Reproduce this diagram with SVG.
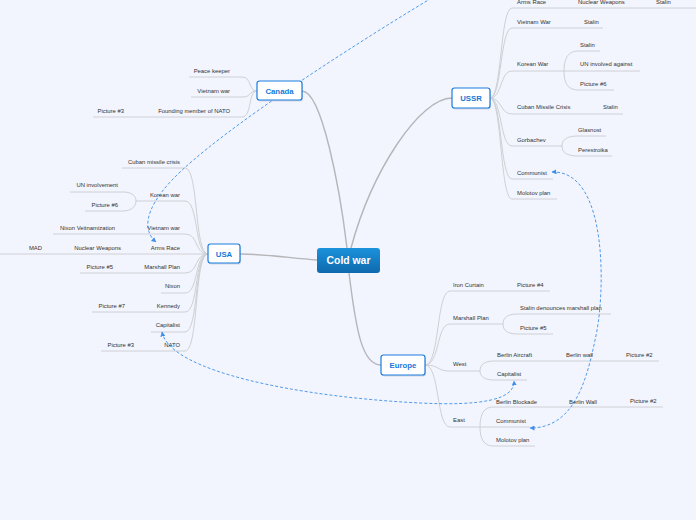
<svg xmlns="http://www.w3.org/2000/svg" width="696" height="520" viewBox="0 0 696 520">
<defs>
<linearGradient id="cg" x1="0" y1="0" x2="0" y2="1">
<stop offset="0" stop-color="#1b92dc"/>
<stop offset="1" stop-color="#0f69ad"/>
</linearGradient>
<marker id="ar" viewBox="0 0 10 10" refX="9" refY="5" markerWidth="5" markerHeight="5" orient="auto-start-reverse" markerUnits="userSpaceOnUse">
<path d="M0,0 L10,5 L0,10 z" fill="#3d8fe8"/>
</marker>
<style>
.main{fill:none;stroke:#b5b5ba;stroke-width:1.4}
.sub{fill:none;stroke:#cfd0d5;stroke-width:1}
.rel{fill:none;stroke:#3d8fe8;stroke-width:0.9;stroke-dasharray:3 2}
.t{font-family:"Liberation Sans",Arial,sans-serif;font-size:5.9px;fill:#333}
.e{text-anchor:end}
.nb{fill:#fff;stroke:#1a7ce0;stroke-width:1.2}
.sh{fill:#9aa3b5;opacity:0.35}
.nt{font-family:"Liberation Sans",Arial,sans-serif;font-size:7.8px;font-weight:bold;fill:#1777d8;text-anchor:middle}
</style>
</defs>
<rect width="696" height="520" fill="#f2f5fd"/>
<g id="connectors">
<path class="main" d="M302,91 C322,91 340,190 347,248"/>
<path class="main" d="M351,248 C372,170 420,98 452,98"/>
<path class="main" d="M317,260 C290,258 265,254 240,254"/>
<path class="main" d="M349,273 C356,330 362,365 381,365"/>
<!-- USSR -->
<path class="sub" d="M490,98 C502,98 500,8 512,8 H696"/>
<path class="sub" d="M490,98 C502,98 500,28 512,28 H603"/>
<path class="sub" d="M490,98 C502,98 500,71 512,71 H640"/>
<path class="sub" d="M578,51 C567,51 564,60 564,71 C564,82 567,90 578,90"/>
<path class="sub" d="M578,51 H600 M578,90 H614"/>
<path class="sub" d="M490,98 C502,98 500,114 512,114 H623"/>
<path class="sub" d="M490,98 C502,98 500,146 512,146 H562"/>
<path class="sub" d="M578,136 C566,136 562,140 562,146 C562,152 566,156 578,156"/>
<path class="sub" d="M578,136 H606 M578,156 H612"/>
<path class="sub" d="M490,98 C502,98 500,179 512,179 H553"/>
<path class="sub" d="M490,98 C502,98 500,199 512,199 H557"/>
<!-- USA -->
<path class="sub" d="M208,254 C194,254 199,168 185,168 H122"/>
<path class="sub" d="M208,254 C194,254 199,201 185,201 H136"/>
<path class="sub" d="M123,192 C132,192 136,196 136,201 C136,206 132,211 123,211"/>
<path class="sub" d="M123,192 H70 M123,211 H85"/>
<path class="sub" d="M208,254 C194,254 199,234 185,234 H53"/>
<path class="sub" d="M208,254 H0"/>
<path class="sub" d="M208,254 C194,254 199,273 185,273 H80"/>
<path class="sub" d="M208,254 C194,254 199,293 185,293 H161"/>
<path class="sub" d="M208,254 C194,254 199,312 185,312 H92"/>
<path class="sub" d="M208,254 C194,254 199,332 185,332 H151"/>
<path class="sub" d="M208,254 C194,254 199,351 185,351 H101"/>
<!-- Canada -->
<path class="sub" d="M257,91 C248,91 252,77 242,77 H189"/>
<path class="sub" d="M257,91 C248,91 252,97 242,97 H191"/>
<path class="sub" d="M257,91 C248,91 252,117 242,117 H93"/>
<!-- Europe -->
<path class="sub" d="M425,365 C440,365 436,291 450,291 H550"/>
<path class="sub" d="M425,365 C440,365 436,324 450,324 H503"/>
<path class="sub" d="M517,314 C507,314 503,318 503,324 C503,330 507,334 517,334"/>
<path class="sub" d="M517,314 H611 M517,334 H553"/>
<path class="sub" d="M425,365 C440,365 436,371 450,371 H480"/>
<path class="sub" d="M494,361 C484,361 480,365 480,371 C480,376 484,380 494,380"/>
<path class="sub" d="M494,361 H659 M494,380 H527"/>
<path class="sub" d="M425,365 C440,365 436,427 450,427 H530"/>
<path class="sub" d="M493,407 C484,407 480,414 480,427 C480,439 484,446 493,446"/>
<path class="sub" d="M493,407 H663 M493,446 H535"/>
<!-- relationships -->
<path class="rel" marker-end="url(#ar)" d="M470,-25 C360,40 220,130 172,180 C142,212 144,232 156,242"/>
<path class="rel" marker-start="url(#ar)" marker-end="url(#ar)" d="M162,332 C170,372 300,397 420,403 C480,406 515,400 514,381"/>
<path class="rel" marker-start="url(#ar)" marker-end="url(#ar)" d="M552,172 C610,170 605,300 595,340 C585,390 570,428 530,428"/>
</g>
<g id="center">
<rect x="317" y="248" width="63" height="25" rx="3" fill="url(#cg)"/>
<text x="348.5" y="264.3" font-family="Liberation Sans,Arial,sans-serif" font-size="10.4" font-weight="bold" fill="#fff" text-anchor="middle">Cold war</text>
</g>
<g id="ussr">
<rect class="sh" x="453" y="89.5" width="38" height="20" rx="2.5"/>
<rect class="nb" x="452" y="88" width="38" height="20" rx="2.5"/>
<text class="nt" x="471" y="100.8">USSR</text>
<text class="t" x="517" y="4">Arms Race</text>
<text class="t" x="578" y="4">Nuclear Weapons</text>
<text class="t" x="656" y="4">Stalin</text>
<text class="t" x="517" y="24">Vietnam War</text>
<text class="t" x="584" y="24">Stalin</text>
<text class="t" x="517" y="66">Korean War</text>
<text class="t" x="580" y="47">Stalin</text>
<text class="t" x="580" y="66">UN involved against</text>
<text class="t" x="580" y="86">Picture #6</text>
<text class="t" x="517" y="109">Cuban Missile Crisis</text>
<text class="t" x="603" y="109">Stalin</text>
<text class="t" x="517" y="142">Gorbachev</text>
<text class="t" x="578" y="132">Glasnost</text>
<text class="t" x="578" y="152">Perestroika</text>
<text class="t" x="517" y="175">Communist</text>
<text class="t" x="517" y="195">Molotov plan</text>
</g>
<g id="canada">
<rect class="sh" x="258" y="82.5" width="45" height="19" rx="2.5"/>
<rect class="nb" x="257" y="81" width="45" height="19" rx="2.5"/>
<text class="nt" x="279.5" y="93.5">Canada</text>
<text class="t e" x="230" y="73">Peace keeper</text>
<text class="t e" x="230" y="93">Vietnam war</text>
<text class="t e" x="230" y="113">Founding member of NATO</text>
<text class="t e" x="124" y="113">Picture #3</text>
</g>
<g id="usa">
<rect class="sh" x="209" y="245.5" width="32" height="19" rx="2.5"/>
<rect class="nb" x="208" y="244" width="32" height="19" rx="2.5"/>
<text class="nt" x="224" y="256.5">USA</text>
<text class="t e" x="180" y="164">Cuban missile crisis</text>
<text class="t e" x="180" y="197">Korean war</text>
<text class="t e" x="118" y="187">UN involvement</text>
<text class="t e" x="118" y="207">Picture #6</text>
<text class="t e" x="180" y="230">Vietnam war</text>
<text class="t e" x="115" y="230">Nixon Veitnamization</text>
<text class="t e" x="180" y="250">Arms Race</text>
<text class="t e" x="121" y="250">Nuclear Weapons</text>
<text class="t e" x="42" y="250">MAD</text>
<text class="t e" x="180" y="269">Marshall Plan</text>
<text class="t e" x="113" y="269">Picture #5</text>
<text class="t e" x="180" y="288">Nixon</text>
<text class="t e" x="180" y="308">Kennedy</text>
<text class="t e" x="125" y="308">Picture #7</text>
<text class="t e" x="180" y="327">Capitalist</text>
<text class="t e" x="180" y="347">NATO</text>
<text class="t e" x="134" y="347">Picture #3</text>
</g>
<g id="europe">
<rect class="sh" x="382" y="356.5" width="44" height="20" rx="2.5"/>
<rect class="nb" x="381" y="355" width="44" height="20" rx="2.5"/>
<text class="nt" x="403" y="367.8">Europe</text>
<text class="t" x="453" y="287">Iron Curtain</text>
<text class="t" x="517" y="287">Picture #4</text>
<text class="t" x="453" y="320">Marshall Plan</text>
<text class="t" x="520" y="310">Stalin denounces marshall plan</text>
<text class="t" x="520" y="330">Picture #5</text>
<text class="t" x="453" y="366">West</text>
<text class="t" x="497" y="357">Berlin Aircraft</text>
<text class="t" x="566" y="357">Berlin wall</text>
<text class="t" x="626" y="357">Picture #2</text>
<text class="t" x="497" y="376">Capitalist</text>
<text class="t" x="453" y="422">East</text>
<text class="t" x="496" y="404">Berlin Blockade</text>
<text class="t" x="569" y="404">Berlin Wall</text>
<text class="t" x="630" y="403">Picture #2</text>
<text class="t" x="496" y="423">Communist</text>
<text class="t" x="496" y="442">Molotov plan</text>
</g>
</svg>
